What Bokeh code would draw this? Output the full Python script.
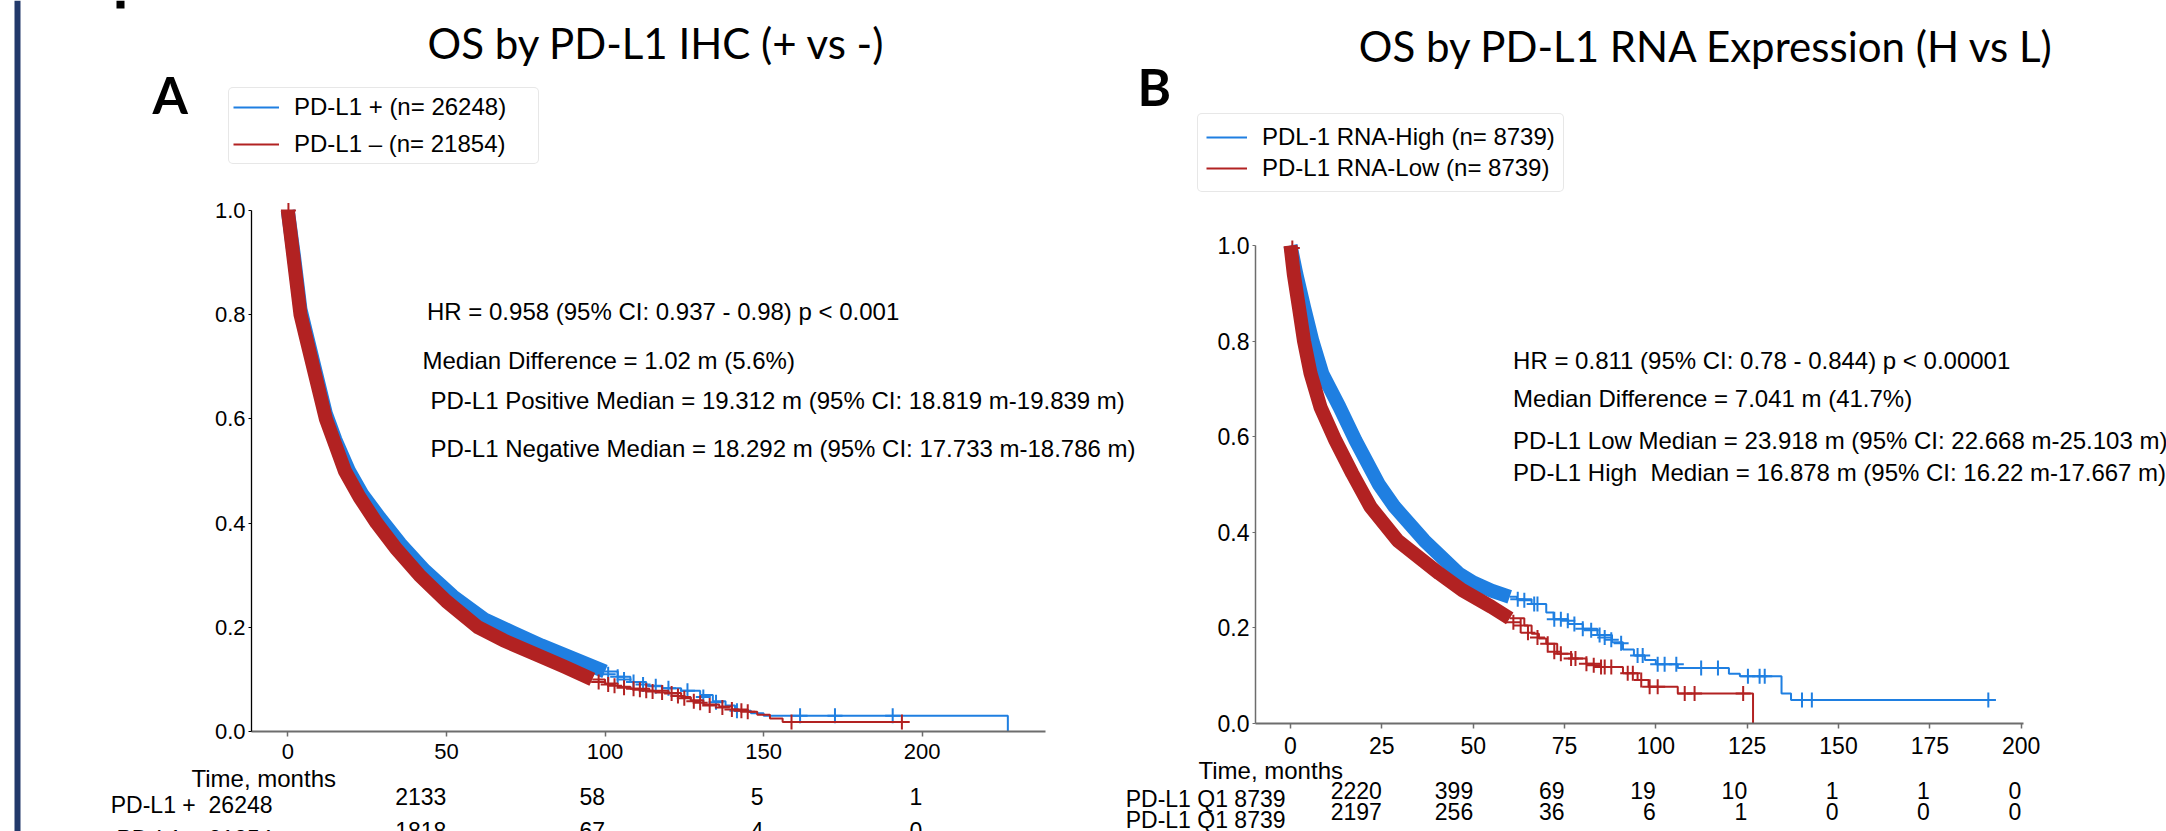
import numpy as np
from bokeh.plotting import figure
from bokeh.models import (Label, LabelSet, ColumnDataSource, Legend, LegendItem,
                          FixedTicker, PrintfTickFormatter, Range1d, LinearAxis, BoxAnnotation)
from bokeh.embed import file_html
from bokeh.resources import INLINE
from bokeh.core.properties import value

BLUE = "#1f7fe1"
RED = "#b22222"
ARIAL = "Liberation Sans"

# ---------------- Panel A data (PD-L1 IHC) ----------------
a_title = "OS by PD-L1 IHC (+ vs -)"
a_legend = ["PD-L1 + (n= 26248)", "PD-L1 \u2013 (n= 21854)"]
a_stats = ["HR = 0.958 (95% CI: 0.937 - 0.98) p < 0.001",
           "Median Difference = 1.02 m (5.6%)",
           "PD-L1 Positive Median = 19.312 m (95% CI: 18.819 m-19.839 m)",
           "PD-L1 Negative Median = 18.292 m (95% CI: 17.733 m-18.786 m)"]

a_pos_band_t = [0, 1, 2, 3, 4, 6, 8, 10, 12, 15, 19.3, 23.5, 29, 35.5, 43, 52, 62, 71, 80, 90, 100]
a_pos_band_s = [1.0, .955, .91, .86, .81, .76, .71, .66, .61, .56, .50, .455, .41, .36, .31, .26, .215, .19, .165, .14, .115]
a_pos_tail_t = [100, 104, 108, 113, 118, 124, 130, 134, 138, 141, 146, 150, 227]
a_pos_tail_s = [.115, .105, .095, .088, .083, .078, .07, .058, .05, .04, .035, .03, 0.0]
a_pos_cens_t = [101, 104, 106, 109, 112, 116, 120, 126, 131, 135, 141.6, 161.5, 172.5, 190.7]
a_pos_cens_s = [.11, .105, .1, .095, .09, .087, .083, .078, .066, .056, .04, .03, .03, .03]

a_neg_band_t = [0, 1, 2, 3, 4, 6, 8, 10, 12, 15, 18, 22.6, 28, 34.3, 41.5, 50, 60, 68, 77.5, 87, 96]
a_neg_band_s = [1.0, .95, .90, .85, .80, .75, .70, .65, .60, .55, .50, .45, .40, .35, .30, .25, .20, .175, .15, .125, .10]
a_neg_tail_t = [96, 100, 104, 108, 114, 120, 124, 127, 131, 136, 140, 145, 148, 152, 156, 196]
a_neg_tail_s = [.10, .092, .086, .082, .078, .074, .066, .06, .052, .048, .042, .038, .032, .025, .018, .018]
a_neg_cens_t = [0.2, 98, 101, 103, 106, 109, 111, 113, 115, 118, 121, 123, 125, 128, 130, 133, 137, 140, 143, 145, 158.8, 193.6]
a_neg_cens_s = [1.0, .095, .09, .088, .084, .082, .08, .078, .077, .075, .073, .068, .064, .058, .055, .05, .046, .042, .04, .038, .018, .018]

a_times = [0, 50, 100, 150, 200]
a_risk_labels = ["PD-L1 +", "PD-L1 -"]
a_risk_pos = [26248, 2133, 58, 5, 1]
a_risk_neg = [21854, 1818, 67, 4, 0]

# ---------------- Panel B data (PD-L1 RNA) ----------------
b_title = "OS by PD-L1 RNA Expression (H vs L)"
b_legend = ["PDL-1 RNA-High (n= 8739)", "PD-L1 RNA-Low (n= 8739)"]
b_stats = ["HR = 0.811 (95% CI: 0.78 - 0.844) p < 0.00001",
           "Median Difference = 7.041 m (41.7%)",
           "PD-L1 Low Median = 23.918 m (95% CI: 22.668 m-25.103 m)",
           "PD-L1 High\u00a0 Median = 16.878 m (95% CI: 16.22 m-17.667 m)"]

b_high_band_t = [0, 1.6, 3.7, 6, 8.7, 13.4, 17.8, 24.2, 28.5, 36.6, 46, 50, 55, 60]
b_high_band_s = [1.0, .94, .871, .80, .732, .662, .592, .50, .453, .383, .314, .295, .278, .265]
b_high_tail_t = [60, 62, 66, 70, 72, 76, 80, 84, 88, 91, 94, 97, 100, 106, 120, 123, 134.4, 137, 193]
b_high_tail_s = [.265, .26, .25, .232, .218, .208, .198, .185, .17, .155, .142, .133, .124, .116, .104, .099, .063, .049, .049]
b_high_cens_t = [62.2, 64, 66.7, 67.6, 72.2, 74, 75.9, 77.7, 80, 82.3, 84.6, 86, 87.8, 90.5, 95, 96.4,
                 100.5, 102.4, 105.6, 112.4, 117, 125.2, 128.4, 129.8, 140, 142.7, 191]
b_high_cens_s = [.26, .258, .25, .25, .218, .218, .215, .208, .198, .195, .185, .18, .175, .168, .142, .142,
                 .124, .124, .124, .116, .116, .099, .099, .099, .049, .049, .049]

b_low_band_t = [0, 0.9, 2.3, 3.7, 5.5, 8.2, 12.3, 16.9, 21.9, 29.3, 40.7, 47, 55, 60]
b_low_band_s = [1.0, .94, .871, .80, .732, .662, .592, .523, .453, .383, .314, .279, .244, .22]
b_low_tail_t = [60, 64, 66, 68, 70, 73, 77, 81, 85, 91, 95, 98, 106, 126.6]
b_low_tail_s = [.22, .205, .188, .178, .167, .146, .136, .125, .118, .105, .091, .077, .063, 0.0]
b_low_cens_t = [0.5, 61, 63, 65, 67.6, 70.4, 72.2, 74, 76.8, 78, 81, 83, 85, 86, 87.8, 92.3, 93.7, 96,
                98.3, 100.5, 107.9, 110.6, 123.9]
b_low_cens_s = [.995, .212, .205, .19, .18, .167, .15, .146, .136, .136, .125, .122, .118, .118, .118, .105,
                .105, .091, .077, .077, .063, .063, .063]

b_times = [0, 25, 50, 75, 100, 125, 150, 175, 200]
b_risk_labels = ["PD-L1 Q1", "PD-L1 Q1"]
b_risk_high = [8739, 2220, 399, 69, 19, 10, 1, 1, 0]
b_risk_low = [8739, 2197, 256, 36, 6, 1, 0, 0, 0]

y_ticks = [0.0, 0.2, 0.4, 0.6, 0.8, 1.0]

# ---------------- geometry (page pixels) ----------------
W, H = 2166, 831
A_X0, A_KX, A_Y0, A_KY = 287.3, 3.172, 731.0, 521.0     # panel A: t=0 x, px/month, S=0 y, px/unit
B_X0, B_KX, B_Y0, B_KY = 1290.0, 3.6535, 723.0, 478.0
A_LEFT, A_RIGHT = 251.0, 1045.0
B_LEFT, B_RIGHT = 1255.0, 2023.0
BASE_K = 0.3   # baseline correction (fraction of font size)


def convA(px, py):
    return (px - A_X0) / A_KX, (A_Y0 - py) / A_KY


def convB(px, py):
    return (px - B_X0) / B_KX, (B_Y0 - py) / B_KY


p = figure(width=W, height=H, output_backend="svg", toolbar_location=None,
           x_range=Range1d((0 - A_X0) / A_KX, (W - A_X0) / A_KX),
           y_range=Range1d((A_Y0 - H) / A_KY, (A_Y0 - 0) / A_KY),
           min_border=0, min_border_left=0, min_border_right=0,
           min_border_top=0, min_border_bottom=0)
p.extra_x_ranges = {"bx": Range1d((0 - B_X0) / B_KX, (W - B_X0) / B_KX)}
p.extra_y_ranges = {"by": Range1d((B_Y0 - H) / B_KY, (B_Y0 - 0) / B_KY)}
p.outline_line_color = None
p.xgrid.visible = False
p.ygrid.visible = False
p.background_fill_color = "white"
p.border_fill_color = "white"


def style_x(ax, ticks, tick_fs, standoff):
    ax.ticker = FixedTicker(ticks=ticks)
    ax.axis_line_color = "#6d6d6d"
    ax.axis_line_width = 2
    ax.major_tick_line_color = "#6d6d6d"
    ax.major_tick_line_width = 1.5
    ax.major_tick_out = 5
    ax.major_tick_in = 0
    ax.minor_tick_out = 0
    ax.minor_tick_in = 0
    ax.major_label_text_font = ARIAL
    ax.major_label_text_font_size = tick_fs
    ax.major_label_text_color = "black"
    ax.major_label_standoff = standoff
    ax.fixed_location = 0


def style_y(ay, tick_fs, color, width):
    ay.ticker = FixedTicker(ticks=y_ticks)
    ay.formatter = PrintfTickFormatter(format="%.1f")
    ay.axis_line_color = color
    ay.axis_line_width = width
    ay.major_tick_line_color = color
    ay.major_tick_out = 3
    ay.major_tick_in = 0
    ay.minor_tick_out = 0
    ay.minor_tick_in = 0
    ay.major_label_text_font = ARIAL
    ay.major_label_text_font_size = tick_fs
    ay.major_label_text_color = "black"
    ay.major_label_standoff = 3
    ay.bounds = (0, 1)


# Panel A axes (default axes, pinned inside the canvas)
axA = p.xaxis[0]
style_x(axA, a_times, "22px", 7)
axA.bounds = (convA(A_LEFT, 0)[0], convA(A_RIGHT, 0)[0])
ayA = p.yaxis[0]
style_y(ayA, "22px", "black", 1.3)
ayA.fixed_location = convA(A_LEFT, 0)[0]

# Panel B axes
axB = LinearAxis(x_range_name="bx", y_range_name="by")
style_x(axB, b_times, "23px", 8)
axB.bounds = (convB(B_LEFT, 0)[0], convB(B_RIGHT, 0)[0])
p.add_layout(axB, "below")
ayB = LinearAxis(x_range_name="bx", y_range_name="by")
style_y(ayB, "23px", "#6d6d6d", 1.5)
ayB.fixed_location = convB(B_LEFT, 0)[0]
p.add_layout(ayB, "left")

# navy slide bar at the left edge and cut-off glyph stroke at the top
p.add_layout(BoxAnnotation(left=convA(14, 0)[0], right=convA(20, 0)[0],
                           fill_color="#22396a", fill_alpha=1.0, line_color=None))
p.add_layout(BoxAnnotation(left=convA(116, 0)[0], right=convA(124, 0)[0],
                           top=convA(0, 0)[1], bottom=convA(0, 8)[1],
                           fill_color="black", fill_alpha=1.0, line_color=None))


def draw_curve(color, band_t, band_s, tail_t, tail_s, cens_t, cens_s, **rn):
    p.line(x=band_t, y=band_s, line_color=color, line_width=14, line_join="round", **rn)
    r = p.step(x=tail_t, y=tail_s, mode="after", line_color=color, line_width=2, **rn)
    p.scatter(x=cens_t, y=cens_s, marker="cross", size=15, line_color=color, line_width=2, **rn)
    return r


def fs_px(fs):
    return float(fs.replace("px", ""))


def add_texts(conv, items, **rn):
    for (px, py, txt, font, size, style, align) in items:
        x, y = conv(px, py - BASE_K * fs_px(size))
        p.add_layout(Label(x=x, y=y, text=txt, text_font=font, text_font_size=size,
                           text_font_style=style, text_align=align, text_baseline="alphabetic",
                           text_color="black", **rn))


def add_risk(conv, times, counts, label, label_px, base_py, fs, **rn):
    _, y = conv(0, base_py - BASE_K * fs_px(fs))
    x0, _ = conv(label_px, 0)
    p.add_layout(Label(x=x0, y=y, text=label, text_font=ARIAL, text_font_size=fs,
                       text_align="right", text_baseline="alphabetic", text_color="black", **rn))
    src = ColumnDataSource(dict(t=times[1:], n=[str(c) for c in counts[1:]]))
    p.add_layout(LabelSet(x="t", y=y, text="n", source=src, text_font=value(ARIAL),
                          text_font_size=value(fs), text_align="right",
                          text_baseline="alphabetic", text_color="black", **rn))


def add_legend(labels, renderers, box_left, box_bottom, glyph_w, label_w, pad, gh, sp):
    loc = (box_left, H - box_bottom)
    leg = Legend(items=[LegendItem(label=lab, renderers=[r]) for lab, r in zip(labels, renderers)],
                 location=loc, orientation="vertical")
    leg.label_text_font = ARIAL
    leg.label_text_font_size = "24px"
    leg.label_text_color = "black"
    leg.glyph_width = glyph_w
    leg.glyph_height = gh
    leg.label_height = gh
    leg.label_width = label_w
    leg.label_standoff = 15
    leg.spacing = sp
    leg.padding = pad
    leg.margin = 0
    leg.border_line_color = "#d0d0d0"
    leg.border_line_width = 1.5
    leg.background_fill_color = "white"
    leg.background_fill_alpha = 1.0
    if "border_radius" in leg.properties():
        leg.border_radius = 5
    p.add_layout(leg)


# ---------------- Panel A ----------------
rA1 = draw_curve(BLUE, a_pos_band_t, a_pos_band_s, a_pos_tail_t, a_pos_tail_s, a_pos_cens_t, a_pos_cens_s)
rA2 = draw_curve(RED, a_neg_band_t, a_neg_band_s, a_neg_tail_t, a_neg_tail_s, a_neg_cens_t, a_neg_cens_s)
add_texts(convA, [
    (656, 55, a_title, "Lato", "42px", "normal", "center"),
    (152, 109, "A", "Lato", "51px", "bold", "left"),
    (426.5, 318, a_stats[0], ARIAL, "24px", "normal", "left"),
    (422, 367, a_stats[1], ARIAL, "24px", "normal", "left"),
    (430, 407, a_stats[2], ARIAL, "24px", "normal", "left"),
    (430, 455, a_stats[3], ARIAL, "24px", "normal", "left"),
    (191, 785, "Time, months", ARIAL, "24px", "normal", "left"),
])
add_risk(convA, a_times, a_risk_pos, f"{a_risk_labels[0]}\u00a0 {a_risk_pos[0]}", 272, 811, "23px")
add_risk(convA, a_times, a_risk_neg, f"{a_risk_labels[1]}\u00a0 {a_risk_neg[0]}", 272, 845, "23px")
add_legend(a_legend, [rA1, rA2], 228, 164, 46, 240, 4, 30, 7)

# ---------------- Panel B ----------------
RB = dict(x_range_name="bx", y_range_name="by")
rB1 = draw_curve(BLUE, b_high_band_t, b_high_band_s, b_high_tail_t, b_high_tail_s, b_high_cens_t, b_high_cens_s, **RB)
rB2 = draw_curve(RED, b_low_band_t, b_low_band_s, b_low_tail_t, b_low_tail_s, b_low_cens_t, b_low_cens_s, **RB)
add_texts(convB, [
    (1706.5, 58, b_title, "Lato", "42px", "normal", "center"),
    (1137, 101, "B", "Lato", "51px", "bold", "left"),
    (1512.6, 367, b_stats[0], ARIAL, "24px", "normal", "left"),
    (1512.6, 405, b_stats[1], ARIAL, "24px", "normal", "left"),
    (1512.6, 447, b_stats[2], ARIAL, "24px", "normal", "left"),
    (1512.6, 479, b_stats[3], ARIAL, "24px", "normal", "left"),
    (1198, 777, "Time, months", ARIAL, "24px", "normal", "left"),
], **RB)
add_risk(convB, b_times, b_risk_high, f"{b_risk_labels[0]} {b_risk_high[0]}", 1285, 805, "23px", **RB)
add_risk(convB, b_times, b_risk_low, f"{b_risk_labels[1]} {b_risk_low[0]}", 1285, 826, "23px", **RB)
add_legend(b_legend, [rB1, rB2], 1197, 192, 41, 292, 8, 30, 1)

open("out.html", "w").write(file_html(p, INLINE))
